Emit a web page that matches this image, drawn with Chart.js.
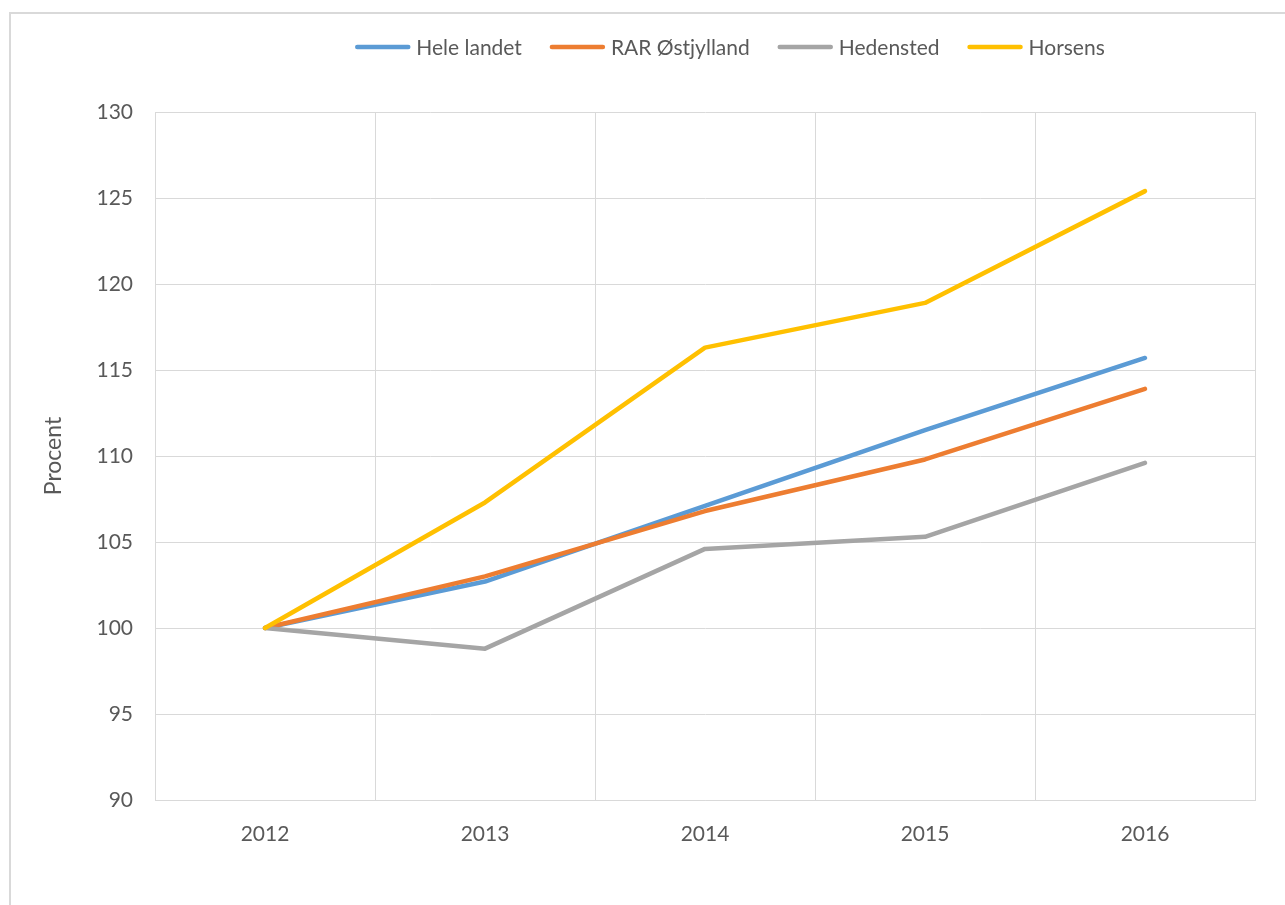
<!DOCTYPE html>
<html>
<head>
<meta charset="utf-8">
<script src="https://cdn.jsdelivr.net/npm/chart.js@4"></script>
<style>
  html, body { margin: 0; padding: 0; background: #fff; overflow: hidden; }
  #frame { position: absolute; left: 9px; top: 12px; width: 1400px; height: 1000px; border: 2px solid #d9d9d9; box-sizing: border-box; }
  #wrap { position: absolute; left: 0; top: 0; width: 1285px; height: 905px; }
</style>
</head>
<body>
<div id="frame"></div>
<div id="wrap"><canvas id="c" width="1285" height="905"></canvas></div>
<script>
const categories = ['2012', '2013', '2014', '2015', '2016'];
const seriesNames = ['Hele landet', 'RAR Østjylland', 'Hedensted', 'Horsens'];
const heleLandet = [100, 102.7, 107.1, 111.5, 115.7];
const rarOstjylland = [100, 103.0, 106.8, 109.8, 113.9];
const hedensted = [100, 98.8, 104.6, 105.3, 109.6];
const horsens = [100, 107.3, 116.3, 118.9, 125.4];
const colors = ['#5B9BD5', '#ED7D31', '#A5A5A5', '#FFC000'];
const yMin = 90, yMax = 130, yStep = 5;
const yTitle = 'Procent';

const FONT = 'Lato, "Open Sans", sans-serif';

const legendPlugin = {
  id: 'customLegend',
  afterDraw(chart) {
    const ctx = chart.ctx;
    const ds = chart.data.datasets;
    ctx.save();
    ctx.font = '21px ' + FONT;
    const lineLen = 55, gapText = 6, gapItem = 28;
    const widths = ds.map(d => lineLen + gapText + ctx.measureText(d.label).width);
    const total = widths.reduce((a, b) => a + b, 0) + gapItem * (ds.length - 1);
    let x = 730 - total / 2;
    const y = 47;
    ds.forEach((d, i) => {
      ctx.strokeStyle = d.borderColor;
      ctx.lineWidth = 4.5;
      ctx.lineCap = 'round';
      ctx.beginPath();
      ctx.moveTo(x + 2, y);
      ctx.lineTo(x + lineLen - 2, y);
      ctx.stroke();
      ctx.fillStyle = '#595959';
      ctx.textBaseline = 'middle';
      ctx.textAlign = 'left';
      ctx.fillText(d.label, x + lineLen + gapText, y + 1);
      x += widths[i] + gapItem;
    });
    ctx.restore();
  }
};

const allSeries = [heleLandet, rarOstjylland, hedensted, horsens];

new Chart(document.getElementById('c'), {
  type: 'line',
  data: {
    labels: categories,
    datasets: allSeries.map((s, i) => ({
      label: seriesNames[i],
      data: s,
      borderColor: colors[i],
      backgroundColor: colors[i],
      borderWidth: 4.5,
      borderCapStyle: 'round',
      borderJoinStyle: 'round',
      pointRadius: 0,
      pointHoverRadius: 0,
      tension: 0,
      fill: false,
      order: allSeries.length - i
    }))
  },
  options: {
    responsive: false,
    animation: false,
    layout: { padding: { left: 10, right: 30, top: 112, bottom: 0 } },
    plugins: {
      legend: { display: false },
      tooltip: { enabled: false }
    },
    scales: {
      x: {
        type: 'category',
        offset: true,
        grid: { offset: true, color: '#d9d9d9', lineWidth: 1, drawTicks: false },
        border: { color: '#d9d9d9', width: 1 },
        ticks: { color: '#595959', font: { family: FONT, size: 21 }, padding: 22 },
        afterFit(scale) { scale.height = 105; }
      },
      y: {
        min: yMin, max: yMax,
        ticks: { stepSize: yStep, color: '#595959', font: { family: FONT, size: 21 }, padding: 22 },
        grid: { color: '#d9d9d9', lineWidth: 1, drawTicks: false },
        border: { color: '#d9d9d9', width: 1 },
        title: { display: true, text: yTitle, color: '#595959', font: { family: FONT, size: 23 }, padding: { top: 30, bottom: 0 } },
        afterFit(scale) { scale.width = 145; }
      }
    }
  },
  plugins: [legendPlugin]
});
</script>
</body>
</html>
